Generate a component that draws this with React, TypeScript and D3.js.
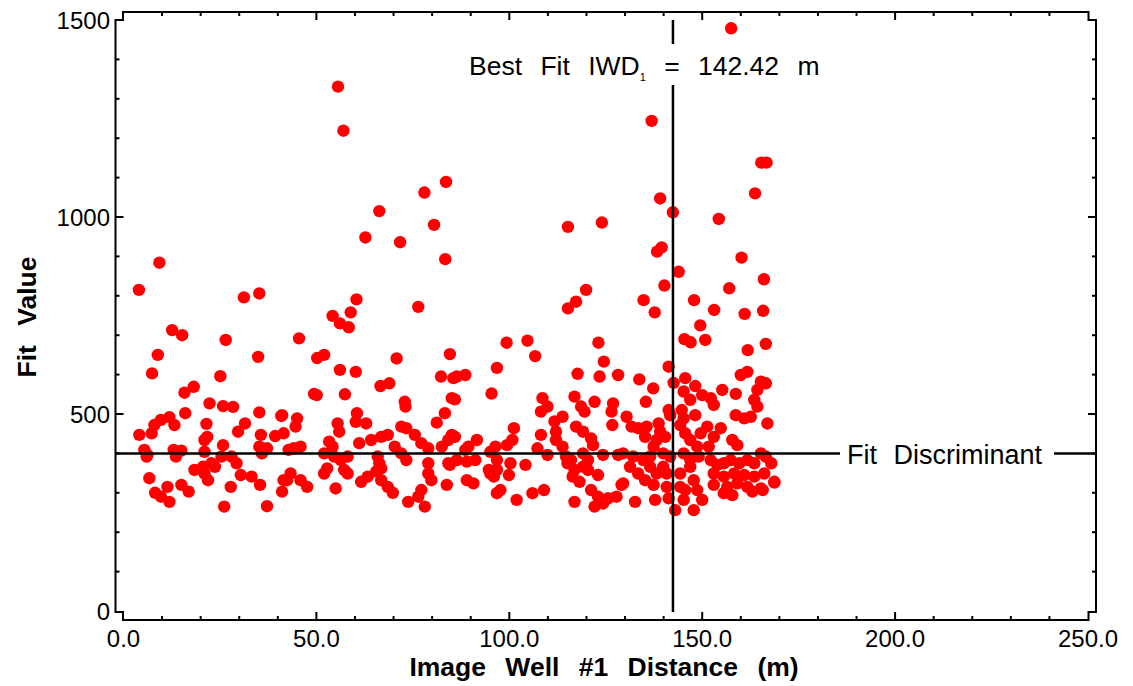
import React from 'react';
import * as d3 from 'd3';

// [distance (m), fit value]
const outliers: [number, number][] = [
  [4.0, 815], [9.3, 884], [12.6, 713], [15.2, 700], [31.2, 796], [35.2, 806], [26.5, 688], [8.9, 650],
  [34.9, 645], [45.5, 692], [55.6, 1331], [57.0, 1219], [66.3, 1015], [62.7, 948], [71.7, 936], [78.0, 1062],
  [83.6, 1089], [80.5, 980], [83.4, 893], [76.4, 772], [60.4, 791], [58.9, 758], [54.2, 749], [56.1, 730],
  [58.4, 720], [70.8, 641], [84.6, 652], [52.0, 650], [50.2, 642],
  [136.9, 1244], [165.3, 1138], [166.7, 1138], [163.7, 1060], [139.1, 1047], [142.4, 1012], [154.3, 995],
  [115.2, 975], [124.0, 986], [139.5, 923], [138.3, 912], [160.2, 897], [143.9, 861], [166.0, 842], [157.0, 819],
  [140.2, 826], [134.8, 789], [137.7, 758], [119.9, 815], [117.3, 785], [115.2, 768], [147.9, 789], [153.1, 764],
  [161.0, 754], [165.8, 762], [149.5, 725], [145.4, 690], [147.0, 682], [150.8, 688], [161.8, 662], [166.5, 678],
  [99.3, 681], [104.7, 686], [123.1, 681], [106.7, 647], [124.5, 633], [157.5, 1479],
];

const clusterA: [number, number][] = [
  [7.4, 603], [25.1, 596], [18.2, 569], [15.8, 554], [22.3, 527], [25.8, 520], [28.4, 518], [16.0, 502],
  [35.2, 504], [40.9, 495], [21.5, 475], [11.9, 492], [9.7, 485], [8.0, 472], [13.2, 472], [31.5, 476],
  [29.7, 455], [4.1, 447], [7.3, 451], [21.7, 442], [21.0, 434], [25.8, 421], [35.6, 447], [39.3, 444],
  [41.5, 451], [35.2, 417], [37.2, 413], [5.4, 409], [6.2, 396], [13.0, 409], [15.0, 407], [21.0, 404],
  [35.9, 400], [42.8, 409], [6.0, 392], [13.6, 392], [18.4, 358], [20.6, 366], [22.8, 375], [25.4, 392],
  [28.0, 392], [29.3, 375], [21.0, 349], [21.9, 332], [23.7, 366], [30.4, 345], [33.2, 341], [35.4, 320],
  [27.8, 315], [6.7, 337], [8.2, 300], [9.7, 290], [11.9, 277], [11.4, 315], [15.0, 320], [16.9, 303],
  [26.1, 265], [37.2, 266], [41.5, 332], [41.1, 303],
];

const clusterB: [number, number][] = [
  [56.1, 612], [60.2, 607], [82.3, 595], [85.5, 591], [66.6, 571], [68.9, 578], [50.1, 548], [49.4, 551],
  [57.4, 550], [72.9, 531], [73.1, 519], [85.1, 540], [41.1, 497], [45.0, 489], [44.6, 468], [60.5, 502],
  [60.2, 480], [62.9, 476], [55.5, 476], [55.9, 455], [83.3, 502], [81.2, 478], [72.0, 468], [73.3, 464],
  [53.3, 430], [54.2, 417], [61.1, 426], [64.2, 434], [66.8, 442], [68.5, 447], [75.5, 447], [77.2, 426],
  [79.0, 413], [82.5, 417], [84.2, 434], [85.9, 442], [44.1, 413], [45.9, 417], [52.0, 400], [54.6, 392],
  [56.3, 383], [58.1, 392], [70.3, 417], [72.0, 400], [73.3, 383], [65.9, 392], [66.3, 375], [66.8, 362],
  [57.2, 358], [58.1, 349], [52.0, 349], [52.8, 362], [43.3, 349], [42.4, 332], [45.9, 332], [47.6, 315],
  [55.0, 311], [61.6, 328], [63.3, 341], [65.5, 354], [66.8, 332], [68.5, 315], [69.8, 300], [73.8, 277],
  [76.4, 290], [78.1, 265], [77.2, 307], [79.0, 375], [79.0, 349], [79.8, 332], [83.8, 320], [84.2, 375],
];

const clusterC: [number, number][] = [
  [96.8, 617], [117.7, 602], [123.4, 595], [128.2, 599], [86.4, 595], [88.6, 599], [95.4, 552], [85.9, 537],
  [108.6, 540], [109.9, 519], [108.2, 506], [116.9, 544], [118.6, 519], [119.5, 506], [122.1, 531], [126.9, 527],
  [126.5, 506], [113.8, 493], [111.7, 481], [117.3, 468], [119.1, 455], [126.7, 472], [112.1, 455], [112.1, 434],
  [108.2, 447], [121.2, 438], [121.7, 421], [85.1, 447], [91.6, 434], [89.4, 417], [88.6, 409], [101.2, 464],
  [100.8, 434], [99.4, 421], [96.4, 417], [95.1, 404], [107.3, 413], [109.9, 396], [113.8, 417], [114.7, 392],
  [116.0, 383], [119.1, 400], [120.4, 383], [124.3, 396], [128.2, 396], [86.4, 383], [89.0, 379], [91.2, 383],
  [96.8, 383], [96.8, 358], [94.7, 358], [104.2, 371], [100.3, 375], [84.6, 371], [115.1, 375], [116.9, 358],
  [116.4, 341], [118.2, 328], [119.1, 366], [120.4, 358], [123.0, 345], [96.0, 341], [95.1, 349], [99.9, 345],
  [89.0, 332], [90.7, 324], [97.7, 307], [96.8, 299], [106.0, 299], [109.0, 307], [101.9, 282], [116.9, 277],
  [121.2, 307], [123.0, 290], [122.1, 265], [124.3, 273], [125.6, 286], [129.1, 320],
];

const clusterD: [number, number][] = [
  [141.3, 620], [133.7, 588], [137.3, 565], [135.4, 531], [142.6, 579], [145.6, 591], [148.2, 571], [150.0, 548],
  [152.2, 540], [153.0, 523], [145.2, 557], [146.9, 536], [155.2, 561], [158.7, 551], [160.0, 599], [161.7, 607],
  [165.2, 582], [166.5, 578], [164.3, 561], [163.5, 536], [164.3, 519], [141.3, 510], [141.7, 497], [144.7, 510],
  [145.2, 489], [148.2, 497], [151.3, 468], [154.8, 464], [158.7, 497], [160.9, 489], [162.6, 493], [166.9, 476],
  [130.4, 493], [131.7, 468], [133.4, 464], [135.6, 468], [135.2, 442], [138.7, 476], [139.1, 455], [140.4, 442],
  [138.2, 434], [137.4, 417], [144.3, 472], [145.6, 451], [146.9, 434], [148.7, 417], [149.6, 451], [153.0, 442],
  [151.7, 417], [157.8, 434], [159.1, 421], [165.2, 400], [166.5, 392], [167.9, 375], [168.7, 328], [129.5, 400],
  [132.1, 392], [134.7, 383], [136.5, 392], [139.9, 400], [141.7, 392], [139.9, 366], [140.8, 349], [145.2, 400],
  [146.9, 383], [149.1, 392], [152.2, 383], [153.9, 371], [155.6, 375], [157.4, 383], [159.6, 375], [161.7, 383],
  [163.5, 375], [153.0, 349], [155.6, 341], [158.3, 349], [160.9, 345], [163.5, 341], [166.1, 349], [153.0, 320],
  [156.5, 315], [159.1, 324], [161.7, 315], [165.2, 311], [168.7, 326], [155.6, 299], [157.8, 294], [163.0, 303],
  [165.7, 307], [147.8, 332], [148.7, 307], [150.0, 282], [147.8, 256], [145.6, 307], [145.2, 282], [144.3, 349],
  [146.9, 366], [131.3, 366], [133.4, 349], [135.2, 332], [137.4, 320], [136.5, 366], [138.2, 349], [129.5, 324],
  [127.8, 290], [132.6, 277], [137.8, 282], [141.3, 286], [143.0, 256], [144.3, 315], [140.8, 315],
];

const xTicks = [0, 50, 100, 150, 200, 250];
const yTicks = [0, 500, 1000, 1500];
const bestFit = 142.42;
const discriminant = 400;

const W = 1133;
const H = 686;
const font = '"Liberation Sans", Arial, sans-serif';

export default function App() {
  const x = d3.scaleLinear().domain([0, 250]).range([123.5, 1088]);
  const y = d3.scaleLinear().domain([0, 1500]).range([611, 20]);

  const left = 115.5, right = 1096, top = 12, bottom = 620;
  const x0 = x(0) - 0.5, x1 = x(250) + 0.5;
  const frame = `M${left},${y(1500)} L${left},${y(0) + 1} L${x0},${y(0) + 1} L${x0},${bottom} L${x1},${bottom}
    L${x1},${y(0) + 1} L${right},${y(0) + 1} L${right},${y(1500)} L${x1},${y(1500)} L${x1},${top}
    L${x0},${top} L${x0},${y(1500)} Z`;

  const xMinor = d3.range(10, 250, 10);
  const yMinor = d3.range(100, 1500, 100);
  const points = [...outliers, ...clusterA, ...clusterB, ...clusterC, ...clusterD];
  const bx = x(bestFit);
  const dy = y(discriminant);

  return (
    <svg width={W} height={H} style={{ position: 'absolute', left: 0, top: 0, background: '#fff' }}>
      <g stroke="#000" strokeWidth={2} fill="none">
        <path d={frame} />
        {xMinor.map(v => {
          const len = v % 50 === 0 ? 8 : 4;
          return (
            <g key={'xt' + v}>
              <line x1={x(v)} x2={x(v)} y1={bottom} y2={bottom - len} />
              <line x1={x(v)} x2={x(v)} y1={top} y2={top + len} />
            </g>
          );
        })}
        {yMinor.map(v => {
          const len = v % 500 === 0 ? 8 : 4;
          return (
            <g key={'yt' + v}>
              <line x1={left} x2={left + len} y1={y(v)} y2={y(v)} />
              <line x1={right} x2={right - len} y1={y(v)} y2={y(v)} />
            </g>
          );
        })}
      </g>

      <g fill="#ff0000">
        {points.map((p, i) => (
          <circle key={i} cx={x(p[0])} cy={y(p[1])} r={6.2} />
        ))}
      </g>

      {/* best fit and discriminant lines */}
      <g stroke="#000" strokeWidth={2.5}>
        <line x1={bx} x2={bx} y1={y(1500)} y2={44} />
        <line x1={bx} x2={bx} y1={85} y2={y(0) + 1} />
        <line x1={left} x2={840} y1={dy} y2={dy} />
        <line x1={1054} x2={right} y1={dy} y2={dy} />
      </g>

      <g fontFamily={font} fontSize={24} fill="#000">
        {xTicks.map(v => (
          <text key={'xl' + v} x={x(v)} y={647} textAnchor="middle">{v.toFixed(1)}</text>
        ))}
        {yTicks.map(v => (
          <text key={'yl' + v} x={110} y={y(v) + 8.5} textAnchor="end">{v}</text>
        ))}
      </g>

      <text x={469} y={75} fontFamily={font} fontSize={26.5} fill="#000" style={{ wordSpacing: '11px' }}>
        Best Fit IWD<tspan fontSize={11} dy={6} fill="#000">1</tspan><tspan dy={-6}> = {bestFit.toFixed(2)} m</tspan>
      </text>
      <text x={847} y={464} fontFamily={font} fontSize={27} fill="#000" style={{ wordSpacing: '9px' }}>
        Fit Discriminant
      </text>

      <text x={604} y={676} textAnchor="middle" fontFamily={font} fontSize={26.5} fontWeight="bold"
        style={{ wordSpacing: '12px' }}>
        Image Well #1 Distance (m)
      </text>
      <text transform="translate(36,317) rotate(-90)" textAnchor="middle" fontFamily={font} fontSize={26.5}
        fontWeight="bold" style={{ wordSpacing: '12px' }}>
        Fit Value
      </text>
    </svg>
  );
}
